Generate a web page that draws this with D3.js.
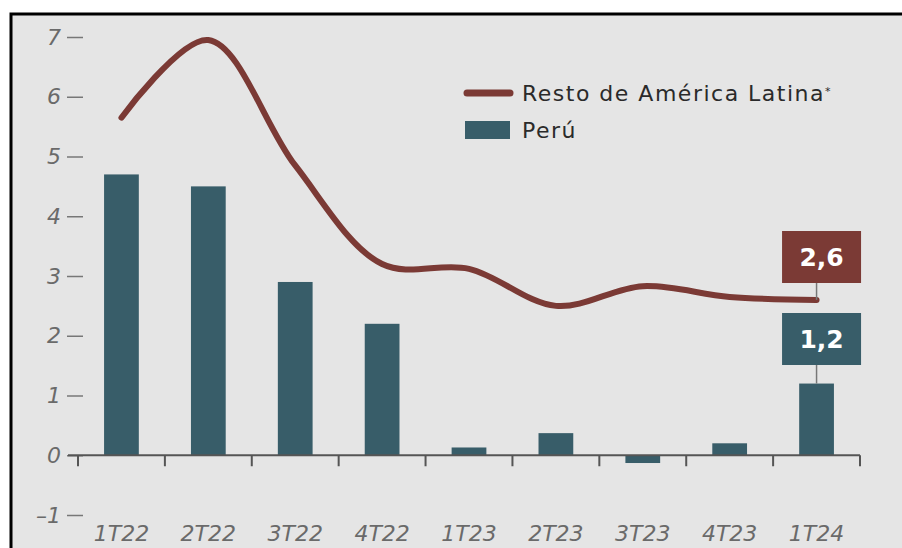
<!DOCTYPE html>
<html>
<head>
<meta charset="utf-8">
<script src="https://cdn.jsdelivr.net/npm/d3@7"></script>
<style>
  body { margin: 0; background: #fff; }
  text { font-family: 'DejaVu Sans', sans-serif; }
</style>
</head>
<body>
<div id="chart"></div>
<script>
const categories = ['1T22', '2T22', '3T22', '4T22', '1T23', '2T23', '3T23', '4T23', '1T24']
const peru = [4.7, 4.5, 2.9, 2.2, 0.13, 0.37, -0.13, 0.2, 1.2]
const restoLatam = [5.65, 6.95, 4.85, 3.2, 3.12, 2.5, 2.83, 2.65, 2.6]
const yTicks = [-1, 0, 1, 2, 3, 4, 5, 6, 7]
const lastLabels = ['2,6', '1,2']

const barColor = '#385d69'
const lineColor = '#7b3a35'
const width = 902
const height = 548

const svg = d3.select('#chart').append('svg')
  .attr('width', width)
  .attr('height', height)

// frame
svg.append('rect')
  .attr('x', 11).attr('y', 14)
  .attr('width', width).attr('height', height)
  .attr('fill', '#e5e5e5')
  .attr('stroke', '#000')
  .attr('stroke-width', 3)

const x = d3.scaleBand().domain(categories).range([78, 860]).padding(0)
const y = d3.scaleLinear().domain([-1, 7]).range([515, 37])
const barW = x.bandwidth() * 0.4
const cx = d => x(d) + x.bandwidth() / 2

// y axis
const yAxis = d3.axisLeft(y)
  .tickValues(yTicks)
  .tickSize(16)
  .tickPadding(6)
  .tickFormat(d => d < 0 ? '–' + Math.abs(d) : d)

svg.append('g')
  .attr('transform', 'translate(83,0)')
  .call(yAxis)
  .call(g => g.select('.domain').remove())
  .call(g => g.selectAll('line').attr('stroke', '#777').attr('stroke-width', 1.5))
  .call(g => g.selectAll('text')
    .attr('fill', '#6a6a6a')
    .style('font-family', "'DejaVu Sans', sans-serif")
    .style('font-size', '22px')
    .style('font-style', 'italic'))

// bars
svg.selectAll('.bar')
  .data(peru)
  .enter().append('rect')
  .attr('class', 'bar')
  .attr('x', (d, i) => cx(categories[i]) - barW / 2)
  .attr('y', d => y(Math.max(0, d)))
  .attr('width', barW)
  .attr('height', d => Math.abs(y(d) - y(0)))
  .attr('fill', barColor)

// x axis baseline and ticks
svg.append('line')
  .attr('x1', 68).attr('x2', x.range()[1])
  .attr('y1', y(0)).attr('y2', y(0))
  .attr('stroke', '#555').attr('stroke-width', 2)

const tickPos = categories.map(c => x(c)).concat([x.range()[1]])
svg.selectAll('.xtick')
  .data(tickPos)
  .enter().append('line')
  .attr('x1', d => d).attr('x2', d => d)
  .attr('y1', y(0)).attr('y2', y(0) + 11)
  .attr('stroke', '#555').attr('stroke-width', 2)

svg.selectAll('.xlabel')
  .data(categories)
  .enter().append('text')
  .attr('x', d => cx(d))
  .attr('y', 541)
  .attr('text-anchor', 'middle')
  .attr('fill', '#6a6a6a')
  .style('font-size', '22px')
  .style('font-style', 'italic')
  .text(d => d)

// line
const line = d3.line()
  .x((d, i) => cx(categories[i]))
  .y(d => y(d))
  .curve(d3.curveCatmullRom.alpha(0.5))

svg.append('path')
  .datum(restoLatam)
  .attr('d', line)
  .attr('fill', 'none')
  .attr('stroke', lineColor)
  .attr('stroke-width', 6)
  .attr('stroke-linecap', 'round')

// end labels
const last = categories.length - 1
const lx = cx(categories[last])
const boxW = 79
const boxH = 52
const boxes = [
  { text: lastLabels[0], top: 231, color: lineColor, target: y(restoLatam[last]) },
  { text: lastLabels[1], top: 313, color: barColor, target: y(peru[last]) }
]
boxes.forEach(b => {
  svg.append('line')
    .attr('x1', lx).attr('x2', lx)
    .attr('y1', b.top + boxH).attr('y2', b.target)
    .attr('stroke', '#777').attr('stroke-width', 1.5)
  svg.append('rect')
    .attr('x', lx - boxW / 2 + 5).attr('y', b.top)
    .attr('width', boxW).attr('height', boxH)
    .attr('fill', b.color)
  svg.append('text')
    .attr('x', lx + 5).attr('y', b.top + boxH / 2)
    .attr('dy', '0.36em')
    .attr('text-anchor', 'middle')
    .attr('fill', '#fff')
    .style('font-size', '25px')
    .style('font-weight', 'bold')
    .text(b.text)
})

// legend
const legend = svg.append('g').attr('transform', 'translate(465,93)')
legend.append('line')
  .attr('x1', 2).attr('x2', 45)
  .attr('y1', 0).attr('y2', 0)
  .attr('stroke', lineColor).attr('stroke-width', 7)
  .attr('stroke-linecap', 'round')
legend.append('text')
  .attr('x', 57).attr('y', 0).attr('dy', '0.35em')
  .attr('fill', '#2a2a2a')
  .style('font-size', '22px')
  .style('letter-spacing', '1.5px')
  .text('Resto de América Latina')
  .append('tspan')
  .attr('dy', '-0.5em')
  .style('font-size', '11px')
  .text('*')
legend.append('rect')
  .attr('x', 0).attr('y', 28)
  .attr('width', 45).attr('height', 18)
  .attr('fill', barColor)
legend.append('text')
  .attr('x', 57).attr('y', 37).attr('dy', '0.35em')
  .attr('fill', '#2a2a2a')
  .style('font-size', '22px')
  .style('letter-spacing', '1.5px')
  .text('Perú')
</script>
</body>
</html>
